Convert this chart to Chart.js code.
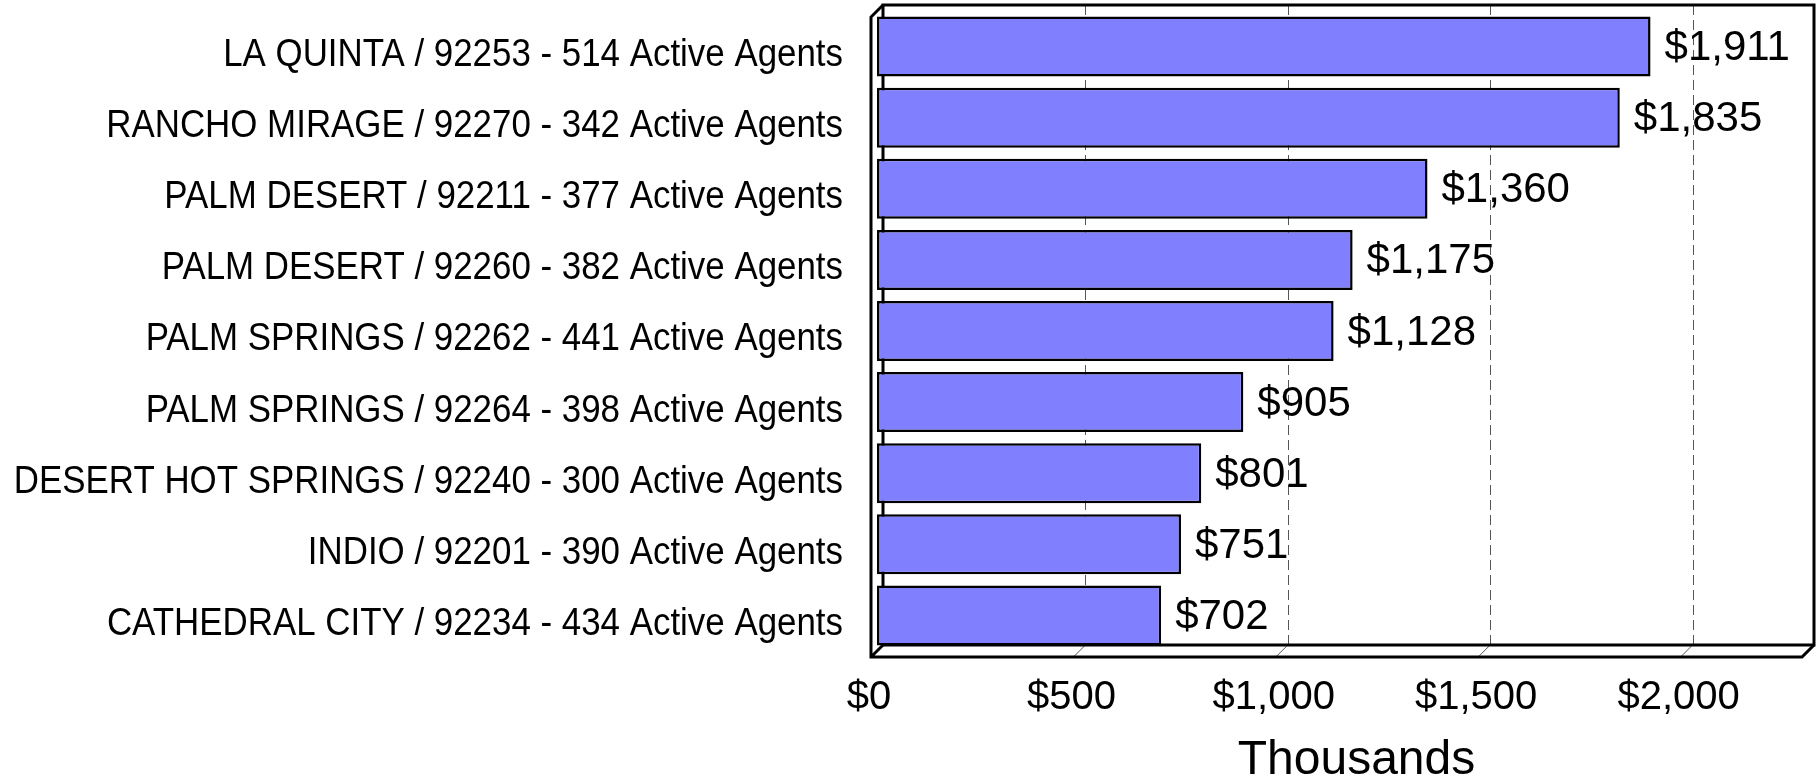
<!DOCTYPE html>
<html>
<head>
<meta charset="utf-8">
<script src="https://cdn.jsdelivr.net/npm/chart.js@4.4.1/dist/chart.umd.min.js"></script>
<style>
  html, body { margin: 0; padding: 0; background: #FFFFFF; }
  #chart { display: block; }
</style>
</head>
<body>
<canvas id="chart" width="1816" height="783"></canvas>
<script>
// chart data
const areaLabels = [
  'LA QUINTA / 92253 - 514 Active Agents',
  'RANCHO MIRAGE / 92270 - 342 Active Agents',
  'PALM DESERT / 92211 - 377 Active Agents',
  'PALM DESERT / 92260 - 382 Active Agents',
  'PALM SPRINGS / 92262 - 441 Active Agents',
  'PALM SPRINGS / 92264 - 398 Active Agents',
  'DESERT HOT SPRINGS / 92240 - 300 Active Agents',
  'INDIO / 92201 - 390 Active Agents',
  'CATHEDRAL CITY / 92234 - 434 Active Agents'
];
const medianPrices = [1911, 1835, 1360, 1175, 1128, 905, 801, 751, 702];
const axisMax = 2300;
const axisStep = 500;
const axisTitle = 'Thousands';

const colors = {
  bar: '#8080FF',
  border: '#000000',
  grid: '#555555',
  text: '#000000'
};
const FONT = "'Liberation Sans', Arial, sans-serif";
const DEPTH = 6; // half of the 3d wall offset

const money = v => '$' + Number(v).toLocaleString('en-US');

// back wall + gridlines behind the bars, front edges + value labels on top
const framePlugin = {
  id: 'frame3d',
  beforeDatasetsDraw(chart) {
    const { ctx, chartArea: a, scales: { x } } = chart;
    const bl = a.left + DEPTH, bt = a.top - DEPTH, br = a.right + DEPTH, bb = a.bottom - DEPTH;
    ctx.save();
    // dashed gridlines on the back wall
    ctx.strokeStyle = colors.grid;
    ctx.lineWidth = 1;
    ctx.setLineDash([10, 5]);
    x.ticks.forEach(t => {
      if (t.value <= 0 || t.value >= axisMax) return;
      const px = Math.round(x.getPixelForValue(t.value) + DEPTH) + 0.5;
      ctx.beginPath();
      ctx.moveTo(px, bt);
      ctx.lineTo(px, bb);
      ctx.stroke();
    });
    ctx.setLineDash([]);
    // little floor lines
    x.ticks.forEach(t => {
      if (t.value <= 0 || t.value >= axisMax) return;
      const px = x.getPixelForValue(t.value);
      ctx.beginPath();
      ctx.moveTo(px + DEPTH, bb);
      ctx.lineTo(px - DEPTH, a.bottom + DEPTH);
      ctx.stroke();
    });
    // back wall outline
    ctx.strokeStyle = colors.border;
    ctx.lineWidth = 3;
    ctx.beginPath();
    ctx.moveTo(bl, bb);
    ctx.lineTo(bl, bt);
    ctx.lineTo(br, bt);
    ctx.lineTo(br, bb);
    ctx.lineTo(bl, bb);
    ctx.stroke();
    ctx.restore();
  },
  afterDatasetsDraw(chart) {
    const { ctx, chartArea: a, scales: { y } } = chart;
    const fl = a.left - DEPTH, ft = a.top + DEPTH, fr = a.right - DEPTH, fb = a.bottom + DEPTH;
    ctx.save();
    ctx.strokeStyle = colors.border;
    ctx.lineWidth = 3;
    ctx.beginPath();
    // front left edge and floor edge
    ctx.moveTo(a.left + DEPTH, a.top - DEPTH);
    ctx.lineTo(fl, ft);
    ctx.lineTo(fl, fb);
    ctx.lineTo(fr, fb);
    ctx.lineTo(a.right + DEPTH, a.bottom - DEPTH);
    ctx.moveTo(fl, fb);
    ctx.lineTo(a.left + DEPTH, a.bottom - DEPTH);
    ctx.stroke();

    // value labels
    ctx.fillStyle = colors.text;
    ctx.font = '42px ' + FONT;
    ctx.textAlign = 'left';
    ctx.textBaseline = 'middle';
    chart.getDatasetMeta(0).data.forEach((bar, i) => {
      ctx.fillText(money(medianPrices[i]), bar.x + 14, bar.y + 2);
    });

    // category labels, slightly condensed like the original
    ctx.font = '38px ' + FONT;
    ctx.textAlign = 'right';
    areaLabels.forEach((lbl, i) => {
      const py = y.getPixelForValue(i) + 9;
      ctx.save();
      ctx.translate(a.left - 34, py);
      ctx.scale(0.918, 1);
      ctx.fillText(lbl, 0, 0);
      ctx.restore();
    });

    // axis title
    ctx.font = '48px ' + FONT;
    ctx.textAlign = 'center';
    ctx.fillText(axisTitle, (a.left + a.right) / 2 + 14, 761);
    ctx.restore();
  }
};

new Chart(document.getElementById('chart'), {
  type: 'bar',
  data: {
    labels: areaLabels,
    datasets: [{
      data: medianPrices,
      backgroundColor: colors.bar,
      borderColor: colors.border,
      borderWidth: 2.5,
      borderSkipped: false,
      barPercentage: 0.844,
      categoryPercentage: 1.0
    }]
  },
  options: {
    indexAxis: 'y',
    responsive: false,
    animation: false,
    devicePixelRatio: 1,
    layout: { padding: { top: 11, right: 8, bottom: 0, left: 0 } },
    plugins: {
      legend: { display: false },
      tooltip: { enabled: false }
    },
    scales: {
      x: {
        min: 0,
        max: axisMax,
        afterFit(scale) {
          scale.height = 132;
          scale.paddingLeft = 0;
          scale.paddingRight = 0;
        },
        afterBuildTicks(scale) {
          const ticks = [];
          for (let v = 0; v <= 2000; v += axisStep) ticks.push({ value: v });
          scale.ticks = ticks;
        },
        grid: { display: false, drawTicks: false },
        border: { display: false },
        ticks: {
          padding: 23,
          labelOffset: -8,
          color: colors.text,
          font: { family: FONT, size: 40 },
          maxRotation: 0,
          autoSkip: false,
          callback: v => money(v)
        },
        title: { display: false }
      },
      y: {
        afterFit(scale) {
          scale.width = 877;
          scale.paddingTop = 0;
          scale.paddingBottom = 0;
        },
        grid: { display: false, drawTicks: false },
        border: { display: false },
        ticks: { display: false }
      }
    }
  },
  plugins: [framePlugin]
});
</script>
</body>
</html>
